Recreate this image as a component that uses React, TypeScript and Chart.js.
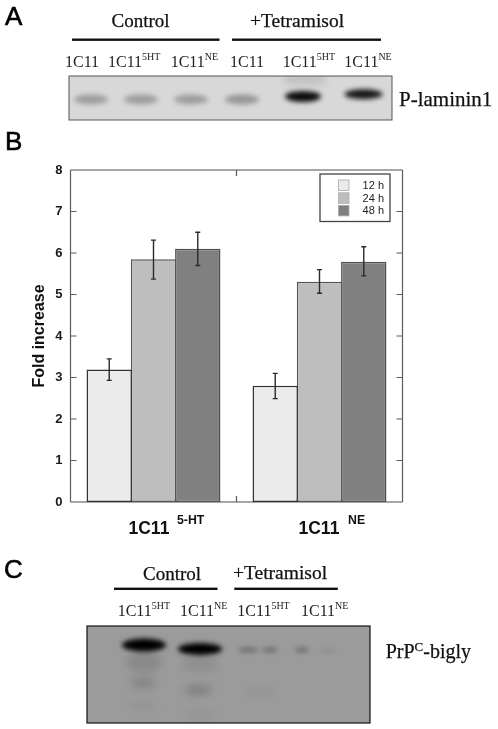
import React, { useEffect, useRef } from "react";
import { Chart, registerables } from "chart.js";

Chart.register(...registerables);

const categories = ["1C11 5-HT", "1C11 NE"];
const seriesNames = ["12 h", "24 h", "48 h"];
const values12h = [3.19, 2.8];
const values24h = [5.85, 5.31];
const values48h = [6.1, 5.79];
const low12h = [2.93, 2.49];
const high12h = [3.45, 3.1];
const low24h = [5.37, 5.03];
const high24h = [6.31, 5.6];
const low48h = [5.7, 5.45];
const high48h = [6.5, 6.15];
const yTicks = [0, 1, 2, 3, 4, 5, 6, 7, 8];

const SANS = '"Liberation Sans", Arial, sans-serif';
const SERIF = '"Liberation Serif", "Times New Roman", serif';

const errorLows = [low12h, low24h, low48h];
const errorHighs = [high12h, high24h, high48h];

const framePlugin = {
  id: "frame",
  beforeDatasetsDraw(chart: any) {
    const { ctx, chartArea: a, scales } = chart;
    ctx.save();
    ctx.strokeStyle = "#8a8a8a";
    ctx.lineWidth = 1.6;
    ctx.beginPath();
    ctx.moveTo(a.left, a.top);
    ctx.lineTo(a.right, a.top);
    ctx.moveTo(a.left, a.bottom);
    ctx.lineTo(a.right, a.bottom);
    ctx.stroke();
    ctx.strokeStyle = "#5c5c5c";
    ctx.lineWidth = 1.2;
    ctx.beginPath();
    ctx.moveTo(a.left, a.top);
    ctx.lineTo(a.left, a.bottom);
    ctx.moveTo(a.right, a.top);
    ctx.lineTo(a.right, a.bottom);
    yTicks.slice(1, -1).forEach((v) => {
      const y = scales.y.getPixelForValue(v);
      ctx.moveTo(a.left, y);
      ctx.lineTo(a.left + 6, y);
      ctx.moveTo(a.right, y);
      ctx.lineTo(a.right - 6, y);
    });
    const mid = (scales.x.getPixelForValue(0) + scales.x.getPixelForValue(1)) / 2;
    ctx.moveTo(mid, a.top);
    ctx.lineTo(mid, a.top + 6);
    ctx.moveTo(mid, a.bottom);
    ctx.lineTo(mid, a.bottom - 6);
    ctx.stroke();
    ctx.restore();
  },
};

const errorPlugin = {
  id: "errors",
  afterDatasetsDraw(chart: any) {
    const { ctx, scales } = chart;
    ctx.save();
    ctx.strokeStyle = "#2a2a2a";
    ctx.lineWidth = 1.4;
    chart.data.datasets.forEach((_: any, d: number) => {
      const meta = chart.getDatasetMeta(d);
      meta.data.forEach((bar: any, i: number) => {
        const yl = scales.y.getPixelForValue(errorLows[d][i]);
        const yh = scales.y.getPixelForValue(errorHighs[d][i]);
        ctx.beginPath();
        ctx.moveTo(bar.x, yl);
        ctx.lineTo(bar.x, yh);
        ctx.moveTo(bar.x - 2.5, yl);
        ctx.lineTo(bar.x + 2.5, yl);
        ctx.moveTo(bar.x - 2.5, yh);
        ctx.lineTo(bar.x + 2.5, yh);
        ctx.stroke();
      });
    });
    ctx.restore();
  },
};

const legendPlugin = {
  id: "boxLegend",
  afterDraw(chart: any) {
    const { ctx } = chart;
    ctx.save();
    ctx.strokeStyle = "#444";
    ctx.lineWidth = 1.3;
    ctx.fillStyle = "#fff";
    ctx.fillRect(320, 174, 70, 47.5);
    ctx.strokeRect(320, 174, 70, 47.5);
    ctx.font = `11px ${SANS}`;
    ctx.textAlign = "right";
    ctx.textBaseline = "alphabetic";
    const rowY = [180, 192.8, 205.4];
    chart.data.datasets.forEach((ds: any, i: number) => {
      ctx.fillStyle = ds.backgroundColor;
      ctx.fillRect(338.5, rowY[i], 10.5, 10.5);
      ctx.strokeStyle = "#aaa";
      ctx.lineWidth = 0.8;
      ctx.strokeRect(338.5, rowY[i], 10.5, 10.5);
      ctx.fillStyle = "#222";
      ctx.fillText(ds.label, 384, rowY[i] + 9);
    });
    ctx.restore();
  },
};

const groupLabelPlugin = {
  id: "groupLabels",
  afterDraw(chart: any) {
    const { ctx, scales } = chart;
    ctx.save();
    ctx.fillStyle = "#111";
    ctx.textBaseline = "alphabetic";
    ctx.textAlign = "left";
    categories.forEach((label, i) => {
      const [main, sup] = label.split(" ");
      const x = scales.x.getPixelForValue(i) - (i === 0 ? 25 : 21);
      ctx.font = `bold 17.5px ${SANS}`;
      ctx.fillText(main, x, 534);
      ctx.font = `bold 12.3px ${SANS}`;
      ctx.fillText(sup, x + (i === 0 ? 48.5 : 49.5), 523.5);
    });
    ctx.restore();
  },
};

function LaneLabel({ x, y, text, sup }: { x: number; y: number; text: string; sup?: string }) {
  return (
    <text x={x} y={y} fontFamily={SERIF} fontSize={16} fill="#222">
      {text}
      {sup ? (
        <tspan fontSize={10} dy={-7}>
          {sup}
        </tspan>
      ) : null}
    </text>
  );
}

const heavy = { fontFamily: SERIF, fill: "#111", stroke: "#111", strokeWidth: 0.25 };

function Overlay() {
  return (
    <svg
      width={498}
      height={729}
      style={{ position: "absolute", left: 0, top: 0, pointerEvents: "none" }}
    >
      <defs>
        <filter id="b1" x="-50%" y="-150%" width="200%" height="400%">
          <feGaussianBlur stdDeviation="2.6" />
        </filter>
        <filter id="b2" x="-50%" y="-150%" width="200%" height="400%">
          <feGaussianBlur stdDeviation="4" />
        </filter>
        <clipPath id="clipA">
          <rect x={69} y={76} width={323} height={44} />
        </clipPath>
        <clipPath id="clipC">
          <rect x={87} y={626} width={283} height={97} />
        </clipPath>
      </defs>

      <g fontFamily={SANS} fontSize={26} fill="#000" stroke="#000" strokeWidth={0.6}>
        <text x={5} y={25}>A</text>
        <text x={5} y={150}>B</text>
        <text x={4} y={578}>C</text>
      </g>

      {/* Panel A */}
      <text x={111.5} y={27} fontSize={19} {...heavy}>Control</text>
      <text x={250} y={27} fontSize={19.5} {...heavy}>+Tetramisol</text>
      <rect x={72} y={38.5} width={147.5} height={2.4} fill="#111" />
      <rect x={232} y={38.5} width={149} height={2.4} fill="#111" />
      <LaneLabel x={65} y={67} text="1C11" />
      <LaneLabel x={108} y={67} text="1C11" sup="5HT" />
      <LaneLabel x={170.7} y={67} text="1C11" sup="NE" />
      <LaneLabel x={230} y={67} text="1C11" />
      <LaneLabel x={282.7} y={67} text="1C11" sup="5HT" />
      <LaneLabel x={344.3} y={67} text="1C11" sup="NE" />
      <rect x={69} y={76} width={323} height={44} fill="#d8d8d8" />
      <g clipPath="url(#clipA)">
        <rect x={285} y={74} width={40} height={10} fill="#bdbdbd" filter="url(#b2)" />
        <g filter="url(#b1)">
          <ellipse cx={91} cy={99.5} rx={17} ry={5} fill="#000" opacity={0.27} />
          <ellipse cx={141} cy={99.5} rx={17} ry={5} fill="#000" opacity={0.27} />
          <ellipse cx={191} cy={99.5} rx={17} ry={5} fill="#000" opacity={0.27} />
          <ellipse cx={242} cy={99.5} rx={17} ry={5} fill="#000" opacity={0.3} />
          <ellipse cx={303} cy={96.5} rx={18} ry={5.5} fill="#000" opacity={0.95} />
          <ellipse cx={363.5} cy={94.3} rx={19} ry={5} fill="#000" opacity={0.9} />
        </g>
      </g>
      <rect x={69} y={76} width={323} height={44} fill="none" stroke="#555" strokeWidth={1} />
      <text x={399} y={105.7} fontSize={21} {...heavy}>P-laminin1</text>

      {/* Panel C */}
      <text x={143} y={580} fontSize={19} {...heavy}>Control</text>
      <text x={233} y={579} fontSize={19.5} {...heavy}>+Tetramisol</text>
      <rect x={114} y={587.6} width={103.5} height={2.4} fill="#111" />
      <rect x={234.3} y={587.6} width={103.5} height={2.4} fill="#111" />
      <LaneLabel x={117.7} y={616} text="1C11" sup="5HT" />
      <LaneLabel x={180} y={616} text="1C11" sup="NE" />
      <LaneLabel x={237.3} y={616} text="1C11" sup="5HT" />
      <LaneLabel x={301} y={616} text="1C11" sup="NE" />
      <rect x={87} y={626} width={283} height={97} fill="#9b9b9b" />
      <g clipPath="url(#clipC)">
        <g filter="url(#b2)">
          <ellipse cx={143} cy={683} rx={13} ry={5} fill="#000" opacity={0.16} />
          <ellipse cx={198} cy={690} rx={14} ry={5} fill="#000" opacity={0.18} />
          <ellipse cx={143} cy={705} rx={14} ry={3} fill="#000" opacity={0.08} />
          <ellipse cx={200} cy={715} rx={18} ry={2} fill="#000" opacity={0.1} />
          <ellipse cx={260} cy={692} rx={16} ry={4} fill="#000" opacity={0.06} />
          <ellipse cx={144} cy={662} rx={18} ry={10} fill="#000" opacity={0.12} />
          <ellipse cx={200} cy={664} rx={18} ry={8} fill="#000" opacity={0.08} />
        </g>
        <g filter="url(#b1)">
          <ellipse cx={144} cy={645} rx={22} ry={6.5} fill="#000" opacity={1} />
          <ellipse cx={200} cy={649} rx={22} ry={6} fill="#000" opacity={1} />
          <ellipse cx={248} cy={650} rx={10} ry={2.5} fill="#000" opacity={0.3} />
          <ellipse cx={270} cy={650} rx={8} ry={2.5} fill="#000" opacity={0.3} />
          <ellipse cx={302} cy={650} rx={7} ry={2.5} fill="#000" opacity={0.3} />
          <ellipse cx={328} cy={651} rx={8} ry={2} fill="#000" opacity={0.08} />
        </g>
      </g>
      <rect x={87} y={626} width={283} height={97} fill="none" stroke="#111" strokeWidth={1.2} />
      <text x={385.7} y={657.7} fontSize={20} {...heavy}>
        PrP
        <tspan fontSize={13} dy={-7}>C</tspan>
        <tspan dy={7}>-bigly</tspan>
      </text>
    </svg>
  );
}

export default function App() {
  const ref = useRef<HTMLCanvasElement>(null);

  useEffect(() => {
    if (!ref.current) return;
    const chart = new Chart(ref.current, {
      type: "bar",
      data: {
        labels: categories,
        datasets: [
          { label: seriesNames[0], data: values12h, backgroundColor: "#ebebeb", borderColor: "#333", borderWidth: 1.5 },
          { label: seriesNames[1], data: values24h, backgroundColor: "#bebebe", borderColor: "#555", borderWidth: 1.5 },
          { label: seriesNames[2], data: values48h, backgroundColor: "#808080", borderColor: "#505050", borderWidth: 1.5 },
        ].map((d) => ({ ...d, barPercentage: 1.025, categoryPercentage: 0.8, borderSkipped: false })),
      },
      options: {
        responsive: false,
        animation: false,
        layout: { padding: { left: 0, right: 95.5, top: 170, bottom: 227 } },
        plugins: { legend: { display: false }, tooltip: { enabled: false } },
        scales: {
          x: {
            grid: { display: false },
            border: { display: false },
            ticks: { display: false },
            afterFit: (s: any) => {
              s.height = 0;
            },
          },
          y: {
            min: 0,
            max: 8,
            afterFit: (s: any) => {
              s.width = 70.5;
            },
            grid: { display: false, drawTicks: false },
            border: { display: false },
            ticks: {
              stepSize: 1,
              padding: 8,
              color: "#1a1a1a",
              font: { family: SANS, size: 13, weight: "bold" },
            },
            title: {
              display: true,
              text: "Fold increase",
              color: "#111",
              padding: { top: 30, bottom: 0 },
              font: { family: SANS, size: 16, weight: "bold" },
            },
          },
        },
      },
      plugins: [framePlugin, errorPlugin, legendPlugin, groupLabelPlugin],
    } as any);
    return () => chart.destroy();
  }, []);

  return (
    <div style={{ position: "absolute", left: 0, top: 0, width: 498, height: 729, background: "#fff", overflow: "hidden", filter: "blur(0.35px)" }}>
      <canvas ref={ref} width={498} height={729} style={{ position: "absolute", left: 0, top: 0 }} />
      <Overlay />
    </div>
  );
}
